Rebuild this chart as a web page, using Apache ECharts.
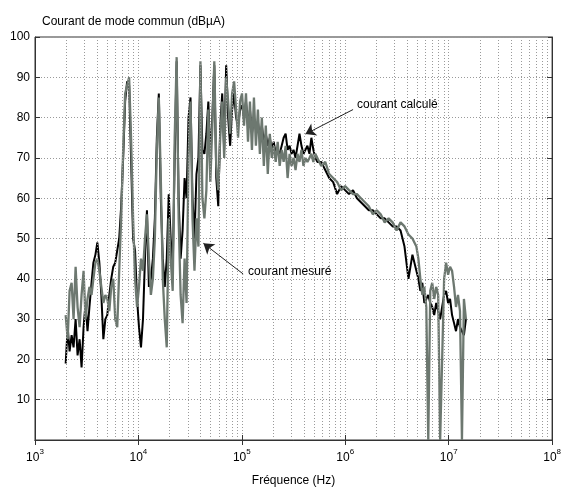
<!DOCTYPE html>
<html><head><meta charset="utf-8">
<script src="https://cdn.jsdelivr.net/npm/echarts@6/dist/echarts.min.js"></script>
<style>html,body{margin:0;padding:0;background:#fff}#c{width:564px;height:492px}</style>
</head><body><div id="c"></div>
<script>
// Frequencies (Hz)
const freq = [
1980,2070,2160,2260,2360,2470,2580,2700,2820,2950,3080,3220,3360,3520,3670,3840,4010,4190,4380,4580,4790,5000,5230,5460,5710,5970,6240,6520,6810,7120,7440,7780,8130,8490,8880,9280,9700,
10130,10590,11070,11570,12090,12630,13200,13800,14420,15070,15750,16460,17200,17980,18790,19640,20520,21450,22420,23430,24480,25590,26740,27950,29210,30520,31900,33340,34840,36410,38050,39770,41560,43440,45400,47440,49580,51820,54160,56600,59150,61820,64610,67520,70560,73750,77070,80550,84180,87970,91940,96090,100400,
105000,109700,114700,119800,125200,130900,136800,143000,149400,156100,163200,170500,178200,186300,194700,203400,212600,222200,232200,242800,253600,265100,277000,289500,302500,316200,330500,345400,361000,377200,394200,412000,430600,450200,470200,491600,513600,537000,
586400,640500,699500,764000,834800,911600,995600,1087000,1188000,1297000,1417000,1548000,1690000,1846000,2016000,2202000,2405000,2627000,2870000,3135000,3424000,3739000,4084000,4461000,4872000,
5092000,5322000,5563000,5813000,6075000,6349000,6635000,6934000,7247000,7574000,7915000,8272000,8645000,9035000,9443000,9869000,10310000,10780000,11270000,11770000,12300000,12860000,13440000,14040000,14680000
];
// courant calculé (dBµA)
const calc = [
19,28,22,26,23,30,21,25,18,28,34,27,33,39,44,46,49,44,36,25,30,31,36,40,43,44,44,50,58,70,84,89,88,70,50,47,35,
28,23,30,45,57,38,40,45,55,75,86,60,45,38,45,61,50,42,70,94,60,45,52,65,60,80,85,60,50,66,70,93,72,71,76,84,70,80,93,65,58,78,86,72,93,80,73,82,86,80,78,82,83,
80,84,78,82,76,80,77,79,75,78,74,76,73,75,72,74,71,72,71,73,75,76,72,73,71,72,70,73,76,73,71,72,73,71,75,72,70,69,
69,67,65,64,61,63,62,61,62,60,59,58,57,57,56,55,55,54,53,53,52,48,40,46,42,
40,37,39,34,35,36,34,33,31,34,32,30,33,36,37,34,35,31,29,27,30,28,27,26,30
];
// courant mesuré (dBµA)
const meas = [
31,25,37,39,30,43,33,28,36,42,30,35,38,36,40,44,45,42,38,34,36,35,32,38,40,30,28,42,55,72,86,88,90,75,55,40,33,
38,45,42,50,56,45,36,40,50,72,85,65,40,30,23,55,45,37,75,95,55,36,29,45,34,70,84,55,42,55,48,94,60,55,62,82,64,78,94,68,62,75,84,70,90,84,76,86,89,82,75,84,86,
78,86,74,84,72,85,73,82,71,80,68,78,66,76,70,73,69,74,68,72,69,73,65,71,68,70,67,71,69,72,68,70,69,70,71,69,71,70,
68,69,66,65,64,62,63,62,61,61,60,59,58,56,57,56,54,55,54,52,54,53,51,50,48,
45,40,36,38,33,0,37,39,35,38,36,0,0,40,44,41,43,42,38,33,36,32,0,35,30
];
// Axis ticks
const decades = [1e3, 1e4, 1e5, 1e6, 1e7];
const mantissas = [2, 3, 4, 5, 6, 7, 8, 9];
const yTicks = [0,10,20,30,40,50,60,70,80,90,100];
// Annotations: [text, textAnchor [f, v], arrowTail [f, v], arrowHead [f, v]]
const notes = [
  ['courant calculé', [1.30e6, 83.2], [1.19e6, 82], [4.12e5, 75.9]],
  ['courant mesuré', [1.15e5, 41.7], [1.03e5, 41.2], [4.25e4, 48.8]]
];

const FONT = 'Liberation Sans, Arial, sans-serif';
const minorLines = [];
decades.forEach(d => mantissas.forEach(m => minorLines.push({xAxis: d * m})));
const gridStyle = {color: '#9a9a9a', width: 1, type: [1, 2]};

const chart = echarts.init(document.getElementById('c'), null, {renderer: 'canvas'});
const xLabel = {
  fontFamily: FONT, color: '#000', margin: 8,
  formatter: v => '{b|10}{e|' + Math.round(Math.log10(v)) + '}',
  rich: {
    b: {fontSize: 12, fontFamily: FONT, color: '#000', verticalAlign: 'bottom', lineHeight: 16},
    e: {fontSize: 8, fontFamily: FONT, color: '#000', verticalAlign: 'top', lineHeight: 16}
  }
};
chart.setOption({
  animation: false,
  backgroundColor: '#fff',
  title: {
    text: 'Courant de mode commun (dBµA)', left: 37, top: 11,
    textStyle: {fontFamily: FONT, fontSize: 12, fontWeight: 'normal', color: '#000'}
  },
  grid: {left: 35, top: 37, right: 8, bottom: 45, show: true, borderColor: '#333', borderWidth: 1, backgroundColor: 'transparent'},
  xAxis: [{
    type: 'log', logBase: 10, min: 1e3, max: 1e8,
    name: 'Fréquence (Hz)', nameLocation: 'middle', nameGap: 35,
    nameTextStyle: {fontFamily: FONT, fontSize: 12, color: '#000'},
    axisLine: {show: true, lineStyle: {color: '#333'}},
    axisTick: {show: true, inside: true, length: 5, lineStyle: {color: '#333'}},
    axisLabel: xLabel,
    splitLine: {show: true, lineStyle: gridStyle}
  }, {
    type: 'log', logBase: 10, min: 1e3, max: 1e8, position: 'top',
    axisLine: {show: true, lineStyle: {color: '#333'}},
    axisTick: {show: true, inside: true, length: 5, lineStyle: {color: '#333'}},
    axisLabel: {show: false}, splitLine: {show: false}
  }],
  yAxis: [{
    type: 'value', min: 0, max: 100, interval: 10,
    axisLine: {show: true, lineStyle: {color: '#333'}},
    axisTick: {show: true, inside: true, length: 5, lineStyle: {color: '#333'}},
    axisLabel: {fontFamily: FONT, fontSize: 12, color: '#000', margin: 5,
      formatter: v => (yTicks.indexOf(v) > 0 ? String(v) : '')},
    splitLine: {show: true, lineStyle: gridStyle}
  }, {
    type: 'value', min: 0, max: 100, interval: 10, position: 'right',
    axisLine: {show: true, lineStyle: {color: '#333'}},
    axisTick: {show: true, inside: true, length: 5, lineStyle: {color: '#333'}},
    axisLabel: {show: false}, splitLine: {show: false}
  }],
  series: [
    {
      name: 'minor', type: 'line', data: [], silent: true, z: 1,
      markLine: {silent: true, symbol: 'none', animation: false, label: {show: false},
        lineStyle: gridStyle, data: minorLines}
    },
    {
      name: 'courant calculé', type: 'line', showSymbol: false, z: 2,
      lineStyle: {color: '#000', width: 2}, itemStyle: {color: '#000'},
      data: freq.map((f, i) => [f, calc[i]])
    },
    {
      name: 'courant mesuré', type: 'line', showSymbol: false, z: 3,
      lineStyle: {color: '#6d7870', width: 2.3}, itemStyle: {color: '#6d7870'},
      data: freq.map((f, i) => [f, meas[i]])
    },
    {
      name: 'notes', type: 'line', data: [], silent: true, z: 5,
      markLine: {silent: true, animation: false, symbol: ['none', 'arrow'], symbolSize: 10,
        label: {show: false}, lineStyle: {color: '#222', width: 1, type: 'solid'},
        itemStyle: {color: '#222'},
        data: notes.map(n => [{coord: n[2]}, {coord: n[3]}])},
      markPoint: {silent: true, animation: false, symbol: 'circle', symbolSize: 0,
        label: {show: true, position: 'right', distance: 0, fontFamily: FONT, fontSize: 12, color: '#000'},
        data: notes.map(n => ({coord: n[1], value: n[0], label: {formatter: n[0]}}))}
    }
  ]
});
</script></body></html>
